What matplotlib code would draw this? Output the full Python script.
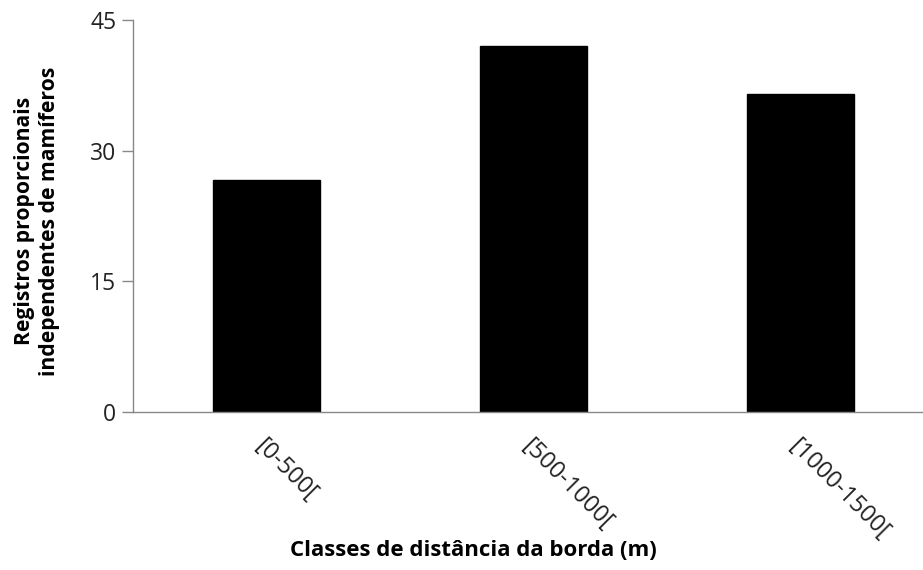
import matplotlib
matplotlib.use("Agg")
import matplotlib.pyplot as plt

categories = ["[0-500[", "[500-1000[", "[1000-1500["]
values = [26.6, 42.0, 36.5]
yticks = [0, 15, 30, 45]

plt.rcParams['font.family'] = ['Open Sans', 'DejaVu Sans']

fig = plt.figure(figsize=(9.23, 5.70), dpi=100)
W, H = 923, 570
left, right, top, bottom = 133, 923, 20, 412
ax = fig.add_axes([left / W, 1 - bottom / H, (right - left) / W, (bottom - top) / H])

x = list(range(len(categories)))
ax.bar(x, values, width=0.4, color="black", edgecolor="black")
ax.set_xlim(-0.5, 2.5 - (934 - 923) / 267)
ax.set_ylim(0, 45)
ax.set_yticks(yticks)
ax.set_yticklabels([str(t) for t in yticks], fontsize=16.5, color="#222222")
ax.set_xticks(x)
ax.set_xticklabels(categories, rotation=-45, ha="left", va="top",
                   rotation_mode="anchor", fontsize=17, color="#222222")
ax.tick_params(axis="x", length=0, pad=16)
ax.tick_params(axis="y", length=8, width=1, color="#888888", direction="out", pad=4)

for s in ["top", "right"]:
    ax.spines[s].set_visible(False)
for s in ["left", "bottom"]:
    ax.spines[s].set_color("#888888")
    ax.spines[s].set_linewidth(1)

fig.text(37 / W, 1 - 221 / H, "Registros proporcionais\nindependentes de mamíferos",
         fontsize=15.2, fontweight="bold", rotation=90, ha="center", va="center",
         multialignment="center", linespacing=1.25)
fig.text(473 / W, 1 - 551 / H, "Classes de distância da borda (m)",
         fontsize=16, fontweight="bold", ha="center", va="center")

fig.savefig("out.png", dpi=100)
